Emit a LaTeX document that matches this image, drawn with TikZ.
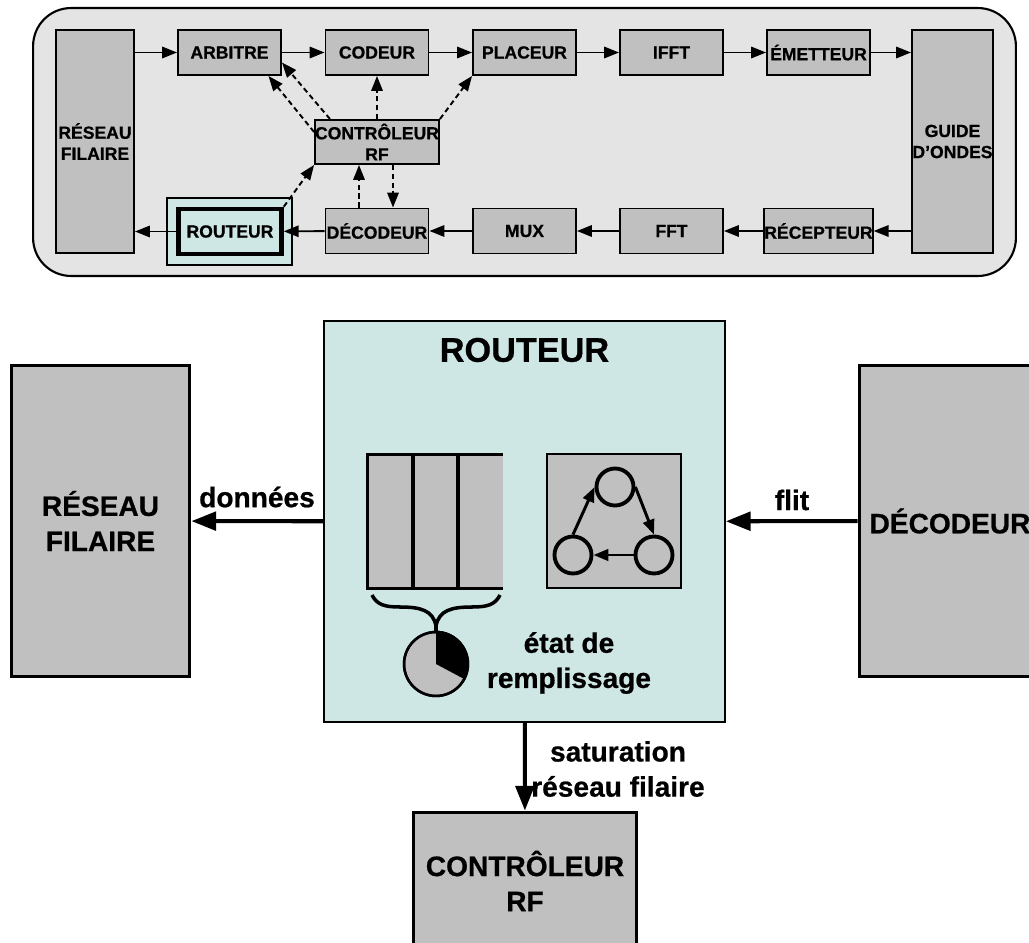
\documentclass[tikz,border=0pt]{standalone}
\usepackage{fontspec}
\setmainfont{Liberation Sans}[BoldFeatures={FakeBold=0.7}]
\usetikzlibrary{positioning,arrows.meta,calc}
\definecolor{boxgray}{HTML}{C0C0C0}
\definecolor{panelgray}{HTML}{E4E4E4}
\definecolor{routeurteal}{HTML}{CFE7E4}
\tikzset{
  smallbox/.style={draw,fill=boxgray,line width=1.1pt,inner sep=0pt,align=center,
    minimum width=2.06cm,minimum height=0.9cm,font=\fontsize{10}{12}\selectfont\bfseries},
  bigbox/.style={draw,fill=boxgray,line width=1.7pt,inner sep=0pt,align=center,
    font=\fontsize{16}{20}\selectfont\bfseries},
  biglabel/.style={inner sep=0pt,align=center,font=\fontsize{16}{20}\selectfont\bfseries},
  flow/.style={line width=1.1pt,-{Triangle[length=8.5pt,width=6.5pt]}},
  ctrl/.style={flow,dash pattern=on 3pt off 2pt},
  bigflow/.style={line width=2.3pt,-{Triangle[length=14pt,width=10.5pt]}},
  fsmstate/.style={draw,circle,line width=2.2pt,fill=boxgray,minimum size=0.74cm,inner sep=0pt},
  fsmflow/.style={line width=1.7pt,-{Triangle[length=8.5pt,width=6.5pt]}}
}

\begin{document}
\begin{tikzpicture}[x=0.02cm,y=-0.02cm]
  \clip (0,0) rectangle (1029,943);
  % chain overview
  \node[draw,fill=panelgray,line width=1.2pt,rounded corners=0.76cm,
    minimum width=19.66cm,minimum height=5.36cm] (panel) at (524.5,142) {};
  \node[smallbox,minimum width=1.56cm,minimum height=4.46cm] (reseau) at (95,141.5) {RÉSEAU\\FILAIRE};
  \node[smallbox,minimum width=1.62cm,minimum height=4.46cm] (guide) at (952.5,141.5) {GUIDE\\D'ONDES};
  \node[smallbox] (arbitre) at (229.5,52.5) {ARBITRE};
  \node[smallbox] (codeur) at (377,52.5) {CODEUR};
  \node[smallbox] (placeur) at (524.5,52.5) {PLACEUR};
  \node[smallbox] (ifft) at (671.5,52.5) {IFFT};
  \node[smallbox] (emetteur) at (818.5,52.5) {ÉMETTEUR};
  \node[draw,fill=routeurteal,line width=1.1pt,minimum width=2.5cm,minimum height=1.34cm] (routeurbg) at (229.5,231.5) {};
  \node[smallbox,fill=routeurteal,line width=2.6pt] (routeur) at (230,231.5) {ROUTEUR};
  \node[smallbox] (decodeur) at (377,231) {DÉCODEUR};
  \node[smallbox] (mux) at (524.5,231) {MUX};
  \node[smallbox] (fft) at (671.5,231) {FFT};
  \node[smallbox] (recepteur) at (818.5,231) {RÉCEPTEUR};
  \node[smallbox,minimum width=2.4cm,minimum height=0.88cm] (controleur) at (377,142) {CONTRÔLEUR\\RF};
  % data path
  \draw[flow] (reseau.east |- arbitre) -- (arbitre);
  \draw[flow] (arbitre) -- (codeur);
  \draw[flow] (codeur) -- (placeur);
  \draw[flow] (placeur) -- (ifft);
  \draw[flow] (ifft) -- (emetteur);
  \draw[flow] (emetteur) -- (guide.west |- emetteur);
  \draw[flow] (guide.west |- recepteur) -- (recepteur);
  \draw[flow] (recepteur) -- (fft);
  \draw[flow] (fft) -- (mux);
  \draw[flow] (mux) -- (decodeur);
  \draw[flow] (decodeur) -- (routeur);
  \draw[flow] (routeur) -- (reseau.east |- routeur);
  % control signals
  \draw[ctrl] ([yshift=0.2cm]controleur.west) -- ([xshift=0.78cm]arbitre.south);
  \draw[ctrl] ([xshift=-0.94cm]controleur.north) -- ([yshift=-0.2cm]arbitre.east);
  \draw[ctrl] (controleur.north) -- (codeur.south);
  \draw[ctrl] (controleur.north east) -- (placeur.south west);
  \draw[ctrl] (routeur.north east) -- (controleur.south west);
  \draw[ctrl] ([xshift=-0.36cm]decodeur.north) -- ([xshift=-0.36cm]controleur.south);
  \draw[ctrl] ([xshift=0.32cm]controleur.south) -- ([xshift=0.32cm]decodeur.north);
  % router detail
  \node[draw,fill=routeurteal,line width=1.1pt,minimum size=8.02cm] (bigrouteur) at (524.5,521.5) {};
  \node[biglabel,font=\fontsize{19.5}{22}\selectfont\bfseries] (titre) at (524.5,350) {ROUTEUR};
  \node[bigbox,minimum width=3.58cm,minimum height=6.24cm] (bigreseau) at (100.5,521) {RÉSEAU\\FILAIRE};
  \node[bigbox,minimum width=3.64cm,minimum height=6.24cm] (bigdecodeur) at (950,521) {DÉCODEUR};
  \node[bigbox,minimum width=4.46cm,minimum height=2.76cm] (bigcontroleur) at (525,881) {CONTRÔLEUR\\RF};
  \node[biglabel] (donnees) at (257,497) {données};
  \node[biglabel] (flit) at (792,500) {flit};
  \node[biglabel] (saturation) at (618,769) {saturation\\réseau filaire};
  \node[biglabel] (etat) at (569,663) {état de\\remplissage};
  \draw[bigflow] (bigrouteur) -- (bigreseau);
  \draw[bigflow] (bigdecodeur) -- (bigrouteur);
  \draw[bigflow] (bigrouteur) -- (bigcontroleur);
  % queue
  \node[fill=boxgray,minimum width=2.7cm,minimum height=2.66cm,inner sep=0pt] (queue) at (435.5,521.5) {};
  \draw[line width=1.9pt] (queue.north east) -- (queue.north west) -- (queue.south west) -- (queue.south east);
  \foreach \i in {1,2} {
    \draw[line width=1.9pt] (368+\i*45,455) -- (368+\i*45,588);
  }
  % fill level
  \node[draw,circle,fill=boxgray,line width=1.4pt,minimum size=1.28cm,inner sep=0pt] (jauge) at (436,664) {};
  \fill (jauge.center) -- (jauge.north) arc (90:-30:0.64cm) -- cycle;
  \draw[line width=1.4pt] (jauge.center) circle (0.64cm);
  \coordinate (bracel) at (372,595);
  \coordinate (bracer) at (500,595);
  \draw[line width=2pt] (bracel) .. controls (377,605) and (385,607) .. (400,607)
    .. controls (420,607) and (433,610) .. (436,626) -- (jauge.north);
  \draw[line width=2pt] (bracer) .. controls (495,605) and (487,607) .. (472,607)
    .. controls (452,607) and (439,610) .. (436,626);
  % state machine
  \node[draw,fill=boxgray,line width=1.1pt,minimum size=2.68cm] (fsm) at (614,521) {};
  \node[fsmstate] (fsmhaut) at (615,487) {};
  \node[fsmstate] (fsmgauche) at (573,555) {};
  \node[fsmstate] (fsmdroite) at (654,555) {};
  \draw[fsmflow] (fsmgauche.north) -- (fsmhaut.west);
  \draw[fsmflow] (fsmhaut.east) -- (fsmdroite.north);
  \draw[fsmflow] (fsmdroite.west) -- (fsmgauche.east);
\end{tikzpicture}
\end{document}
